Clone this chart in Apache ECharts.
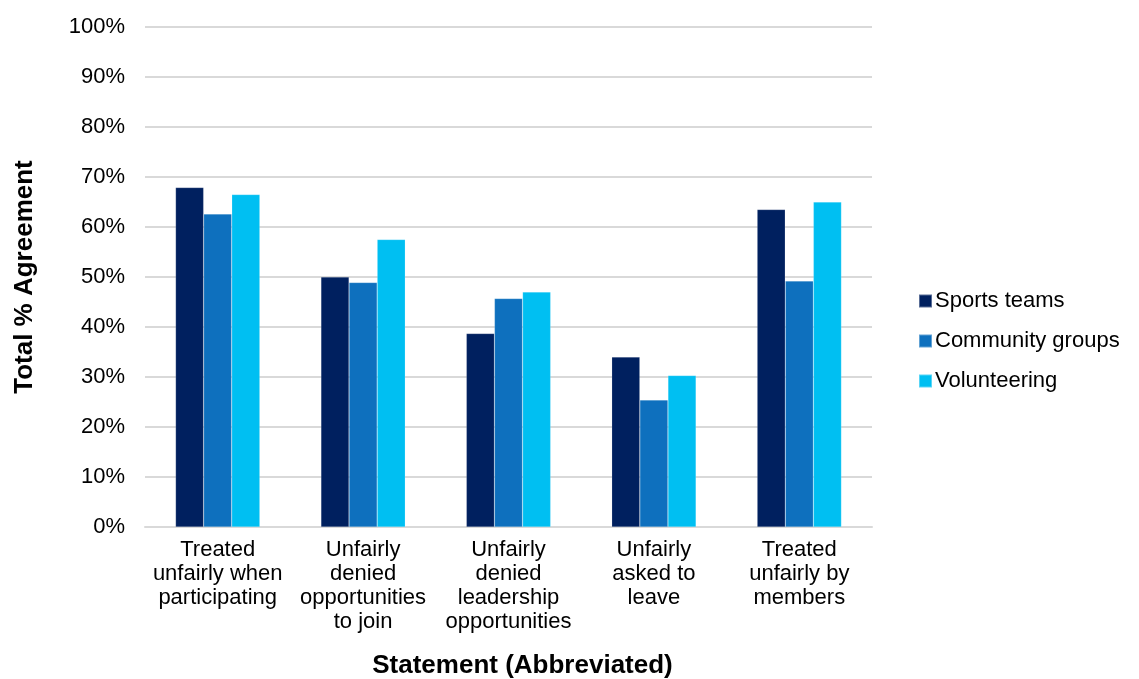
<!DOCTYPE html>
<html>
<head>
<meta charset="utf-8">
<script src="https://cdn.jsdelivr.net/npm/echarts@6/dist/echarts.min.js"></script>
<style>
  html, body { margin: 0; padding: 0; background: #fff; }
  #chart { width: 1139px; height: 679px; }
</style>
</head>
<body>
<div id="chart"></div>
<script>
var categories = [
  'Treated\nunfairly when\nparticipating',
  'Unfairly\ndenied\nopportunities\nto join',
  'Unfairly\ndenied\nleadership\nopportunities',
  'Unfairly\nasked to\nleave',
  'Treated\nunfairly by\nmembers'
];
var sportsTeams = [67.9, 50.0, 38.7, 34.0, 63.5];
var communityGroups = [62.6, 48.9, 45.7, 25.4, 49.2];
var volunteering = [66.5, 57.5, 47.0, 30.3, 65.0];
var yTicks = [0, 10, 20, 30, 40, 50, 60, 70, 80, 90, 100];

var font = 'Liberation Sans, Arial, Helvetica, sans-serif';

var chart = echarts.init(document.getElementById('chart'), null, { renderer: 'canvas' });

function bar(name, data, color) {
  return {
    name: name,
    type: 'bar',
    data: data,
    barGap: '0%',
    barCategoryGap: '42%',
    itemStyle: { color: color, borderColor: 'rgba(255,255,255,0.35)', borderWidth: 0.5 }
  };
}

var option = {
  animation: false,
  textStyle: { fontFamily: font },
  grid: { left: 145, right: 267, top: 27, bottom: 152, containLabel: false, outerBoundsMode: 'none' },
  legend: {
    orient: 'vertical',
    left: 918,
    top: 290,
    padding: 0,
    itemWidth: 13,
    itemHeight: 13,
    itemGap: 18,
    icon: 'rect',
    textStyle: { fontFamily: font, fontSize: 22, color: '#000', lineHeight: 22, padding: [0, 0, 0, -2] },
    data: ['Sports teams', 'Community groups', 'Volunteering']
  },
  xAxis: {
    type: 'category',
    data: categories,
    name: 'Statement (Abbreviated)',
    nameLocation: 'middle',
    nameGap: 126,
    nameTextStyle: { fontFamily: font, fontSize: 26, fontWeight: 'bold', color: '#000', padding: [0, 0, 0, 28] },
    axisLine: { lineStyle: { color: '#d9d9d9', width: 2 } },
    axisTick: { show: false },
    axisLabel: { fontFamily: font, fontSize: 22, color: '#000', lineHeight: 24, margin: 11, interval: 0 }
  },
  yAxis: {
    type: 'value',
    min: yTicks[0],
    max: yTicks[yTicks.length - 1],
    interval: 10,
    name: 'Total % Agreement',
    nameLocation: 'middle',
    nameGap: 107,
    nameTextStyle: { fontFamily: font, fontSize: 26, fontWeight: 'bold', color: '#000' },
    axisLine: { show: false },
    axisTick: { show: false },
    axisLabel: { fontFamily: font, fontSize: 22, color: '#000', margin: 20, formatter: '{value}%' },
    splitLine: { lineStyle: { color: '#d9d9d9', width: 2 } }
  },
  series: [
    bar('Sports teams', sportsTeams, '#00205F'),
    bar('Community groups', communityGroups, '#0E70BE'),
    bar('Volunteering', volunteering, '#00BFF2')
  ]
};

chart.setOption(option);
</script>
</body>
</html>
